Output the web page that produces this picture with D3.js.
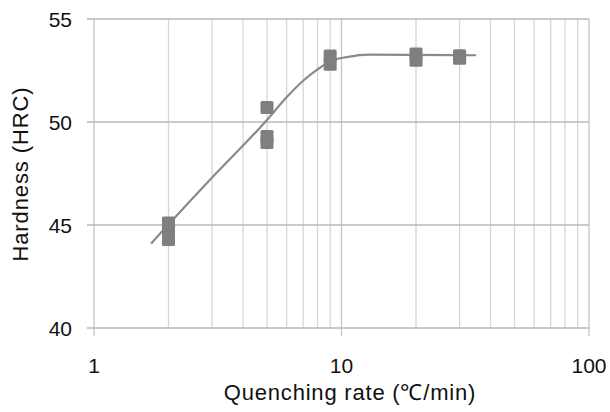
<!DOCTYPE html>
<html><head><meta charset="utf-8">
<script src="https://cdn.jsdelivr.net/npm/d3@7"></script>
<style>body{margin:0;background:#fff;}svg{display:block;}</style>
</head><body>
<svg id="c" width="610" height="412"></svg>
<script>
const yTicks = [40, 45, 50, 55];
const xMajor = [1, 10, 100];
const xMinor = [2,3,4,5,6,7,8,9,20,30,40,50,60,70,80,90];
const pointX = [2, 2, 2, 5, 5, 5, 9, 9, 20, 20, 30, 30];
const pointY = [45.1, 44.7, 44.3, 50.7, 49.3, 49.0, 53.2, 52.8, 53.3, 53.0, 53.22, 53.1];
const curveX = [1.7, 3, 5, 6, 7, 8, 9, 10.5, 13, 35];
const curveY = [44.1, 47.3, 50.1, 51.2, 52.0, 52.55, 52.95, 53.15, 53.27, 53.24];
const xTitle = "Quenching rate (\u2103/min)";
const yTitle = "Hardness (HRC)";

const svg = d3.select("#c");
const L = 94, R = 589, T = 19, B = 328;
const x = d3.scaleLog().domain([1, 100]).range([L, R]);
const y = d3.scaleLinear().domain([40, 55]).range([B, T]);
const font = "'Liberation Sans', Arial, sans-serif";

svg.append("g").selectAll("line").data(xMinor).join("line")
  .attr("x1", d => x(d)).attr("x2", d => x(d)).attr("y1", T).attr("y2", B)
  .attr("stroke", "#d6d6d6").attr("stroke-width", 1.3);
svg.append("g").selectAll("line").data(xMajor).join("line")
  .attr("x1", d => x(d)).attr("x2", d => x(d)).attr("y1", T).attr("y2", B + 8)
  .attr("stroke", "#c4c4c4").attr("stroke-width", 1.3);
svg.append("g").selectAll("line").data(yTicks).join("line")
  .attr("x1", L - 7).attr("x2", R).attr("y1", d => y(d)).attr("y2", d => y(d))
  .attr("stroke", "#b8b8b8").attr("stroke-width", 1.3);

svg.append("g").selectAll("text").data(yTicks).join("text")
  .attr("x", 72).attr("y", d => y(d)).attr("dy", "0.36em")
  .attr("text-anchor", "end").attr("font-family", font).attr("font-size", 21)
  .attr("fill", "#111").text(d => d);
svg.append("g").selectAll("text").data(xMajor).join("text")
  .attr("x", d => x(d)).attr("y", 373)
  .attr("text-anchor", "middle").attr("font-family", font).attr("font-size", 21)
  .attr("fill", "#111").text(d => d);

svg.append("text").attr("x", 350).attr("y", 400).attr("text-anchor", "middle")
  .attr("font-family", font).attr("font-size", 22).attr("letter-spacing", 0.8)
  .attr("fill", "#111").text(xTitle);
svg.append("text").attr("transform", "translate(28,174) rotate(-90)").attr("text-anchor", "middle")
  .attr("font-family", font).attr("font-size", 22).attr("letter-spacing", 0.9)
  .attr("fill", "#111").text(yTitle);

const curve = curveX.map((d, i) => [d, curveY[i]]);
svg.append("path").datum(curve)
  .attr("d", d3.line().x(d => x(d[0])).y(d => y(d[1])).curve(d3.curveMonotoneX))
  .attr("fill", "none").attr("stroke", "#8a8a8a").attr("stroke-width", 2.2);

const pts = pointX.map((d, i) => [d, pointY[i]]);
const s = 13;
svg.append("g").selectAll("rect").data(pts).join("rect")
  .attr("x", d => x(d[0]) - s / 2).attr("y", d => y(d[1]) - s / 2)
  .attr("width", s).attr("height", s).attr("rx", 1.5)
  .attr("fill", "#7f7f7f");
</script>
</body></html>
